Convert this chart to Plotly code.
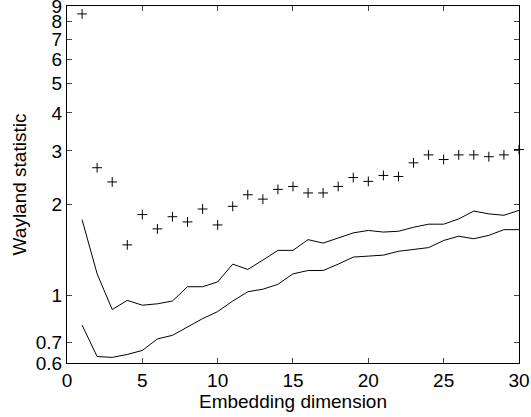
import math
import plotly.graph_objects as go

dims = list(range(1, 31))
wayland_data = [8.48, 2.64, 2.37, 1.47, 1.85, 1.66, 1.82, 1.75, 1.93, 1.71,
                1.97, 2.15, 2.08, 2.24, 2.29, 2.18, 2.18, 2.29, 2.45, 2.38,
                2.49, 2.47, 2.74, 2.91, 2.81, 2.91, 2.91, 2.87, 2.91, 3.03]
upper_bound = [1.78, 1.18, 0.90, 0.965, 0.93, 0.94, 0.96, 1.07, 1.07, 1.11,
               1.27, 1.22, 1.31, 1.41, 1.41, 1.53, 1.49, 1.55, 1.61, 1.64,
               1.62, 1.63, 1.68, 1.72, 1.72, 1.79, 1.90, 1.86, 1.84, 1.91]
lower_bound = [0.80, 0.63, 0.626, 0.64, 0.66, 0.72, 0.74, 0.79, 0.84, 0.886,
               0.96, 1.03, 1.05, 1.09, 1.18, 1.21, 1.21, 1.27, 1.34, 1.35,
               1.36, 1.40, 1.42, 1.44, 1.52, 1.57, 1.54, 1.58, 1.65, 1.65]
x_ticks = [0, 5, 10, 15, 20, 25, 30]
y_ticks = [0.6, 0.7, 1, 2, 3, 4, 5, 6, 7, 8, 9]
y_tick_text = ["0.6", "0.7", "1", "2", "3", "4", "5", "6", "7", "8", "9"]

fig = go.Figure()
fig.add_trace(go.Scatter(x=dims, y=upper_bound, mode="lines",
                         line=dict(color="black", width=1), showlegend=False))
fig.add_trace(go.Scatter(x=dims, y=lower_bound, mode="lines",
                         line=dict(color="black", width=1), showlegend=False))
fig.add_trace(go.Scatter(x=dims, y=wayland_data, mode="markers",
                         marker=dict(symbol="cross-thin-open", size=7, color="black",
                                     line=dict(color="black", width=1)),
                         showlegend=False, cliponaxis=False))

font = dict(family="Liberation Sans, Arial, Helvetica, sans-serif", size=19, color="black")
fig.update_layout(
    width=531, height=417,
    margin=dict(l=67, r=12, t=6, b=54),
    paper_bgcolor="white", plot_bgcolor="white",
    font=font,
    xaxis=dict(range=[0, 30.001], tickvals=x_ticks, ticks="inside", ticklen=5,
               showline=True, linecolor="black", linewidth=1.2, mirror="ticks",
               showgrid=False, zeroline=False, tickfont=font, automargin=False,
               ticklabeloverflow="allow",
               title=dict(text="Embedding dimension", font=font, standoff=0)),
    yaxis=dict(type="log", range=[math.log10(0.6) - 0.0001, math.log10(9) + 0.0003],
               tickvals=y_ticks, ticktext=y_tick_text, ticks="inside", ticklen=5,
               showline=True, linecolor="black", linewidth=1.2, mirror="ticks",
               showgrid=False, zeroline=False, tickfont=font, automargin=False,
               ticklabeloverflow="allow",
               title=dict(text="Wayland statistic", font=font, standoff=4)),
)
fig.write_html("out.html",
               config={"displayModeBar": False},
               post_script="document.body.style.margin='0';document.body.style.overflow='hidden';")
